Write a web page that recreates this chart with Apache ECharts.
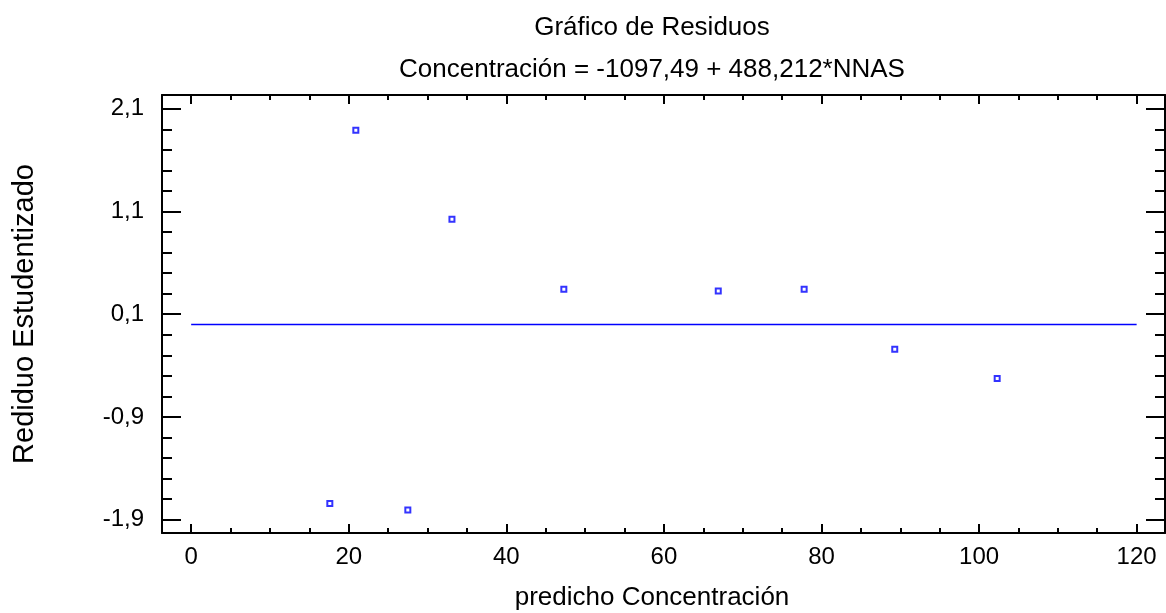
<!DOCTYPE html>
<html>
<head>
<meta charset="utf-8">
<script src="https://cdn.jsdelivr.net/npm/echarts@6/dist/echarts.min.js"></script>
<style>html,body{margin:0;padding:0;background:#fff;}#c{width:1166px;height:613px;}</style>
</head>
<body>
<div id="c"></div>
<script>
const titleText = 'Gráfico de Residuos';
const subtitleText = 'Concentración = -1097,49 + 488,212*NNAS';
const xName = 'predicho Concentración';
const yName = 'Rediduo Estudentizado';

const predicted = [17.6, 20.9, 27.5, 33.1, 47.3, 66.9, 77.8, 89.3, 102.3];
const residuals = [-1.744, 1.891, -1.805, 1.024, 0.342, 0.325, 0.342, -0.240, -0.526];

const xMajorTicks = [0, 20, 40, 60, 80, 100, 120];
const xMinorTicks = [5, 10, 15, 25, 30, 35, 45, 50, 55, 65, 70, 75, 85, 90, 95, 105, 110, 115];
const yMajorTicks = [-1.9, -0.9, 0.1, 1.1, 2.1];
const yMinorTicks = [-1.7, -1.5, -1.3, -1.1, -0.7, -0.5, -0.3, -0.1, 0.3, 0.5, 0.7, 0.9, 1.3, 1.5, 1.7, 1.9];
const zeroLine = [[0, 0], [120, 0]];

const X_MIN = -3.7, X_MAX = 123.6, Y_MIN = -2.03, Y_MAX = 2.234;
const FONT = '"Liberation Sans", Arial, sans-serif';
const fmt = v => String(v).replace('.', ',');

function xAx(pos, ticks, len, labels, line) {
  return {
    type: 'value', position: pos, min: X_MIN, max: X_MAX,
    splitLine: { show: false },
    axisLine: { show: line, onZero: false, lineStyle: { color: '#000', width: 2 } },
    axisTick: { show: true, inside: true, length: len, customValues: ticks, lineStyle: { color: '#000', width: 2 } },
    axisLabel: { show: labels, customValues: ticks, margin: 12, color: '#000', fontSize: 24, fontFamily: FONT, formatter: fmt }
  };
}
function yAx(pos, ticks, len, labels, line) {
  return {
    type: 'value', position: pos, min: Y_MIN, max: Y_MAX,
    splitLine: { show: false },
    axisLine: { show: line, onZero: false, lineStyle: { color: '#000', width: 2 } },
    axisTick: { show: true, inside: true, length: len, customValues: ticks, lineStyle: { color: '#000', width: 2 } },
    axisLabel: { show: labels, customValues: ticks, margin: 18, color: '#000', fontSize: 24, fontFamily: FONT, formatter: fmt },
    name: labels ? yName : '', nameLocation: 'middle', nameGap: 123,
    nameTextStyle: { color: '#000', fontSize: 29, fontFamily: FONT }
  };
}

const chart = echarts.init(document.getElementById('c'), null, { renderer: 'canvas' });
chart.setOption({
  backgroundColor: '#fff',
  animation: false,
  graphic: [
    { type: 'text', x: 652, y: 28, style: { text: titleText, fill: '#000', font: '26px ' + FONT, textAlign: 'center', textVerticalAlign: 'middle' } },
    { type: 'text', x: 652, y: 70, style: { text: subtitleText, fill: '#000', font: '26px ' + FONT, textAlign: 'center', textVerticalAlign: 'middle' } },
    { type: 'text', x: 652, y: 598, style: { text: xName, fill: '#000', font: '26px ' + FONT, textAlign: 'center', textVerticalAlign: 'middle' } }
  ],
  grid: { left: 162, right: 1, top: 95, bottom: 80, containLabel: false },
  xAxis: [
    xAx('bottom', xMajorTicks, 9, true, true),
    xAx('bottom', xMinorTicks, 5, false, false),
    xAx('top', xMajorTicks, 9, false, true),
    xAx('top', xMinorTicks, 5, false, false)
  ],
  yAxis: [
    yAx('left', yMajorTicks, 19, true, true),
    yAx('left', yMinorTicks, 10, false, false),
    yAx('right', yMajorTicks, 19, false, true),
    yAx('right', yMinorTicks, 10, false, false)
  ],
  series: [
    {
      type: 'line', xAxisIndex: 0, yAxisIndex: 0,
      data: zeroLine, showSymbol: false, symbol: 'none',
      lineStyle: { color: '#0000ff', width: 1.5 }, silent: true
    },
    {
      type: 'scatter', xAxisIndex: 0, yAxisIndex: 0,
      data: predicted.map((x, i) => [x, residuals[i]]),
      symbol: 'rect', symbolSize: 5,
      itemStyle: { color: '#ffffff', borderColor: '#0000ff', borderWidth: 2 }
    }
  ]
});
</script>
</body>
</html>
